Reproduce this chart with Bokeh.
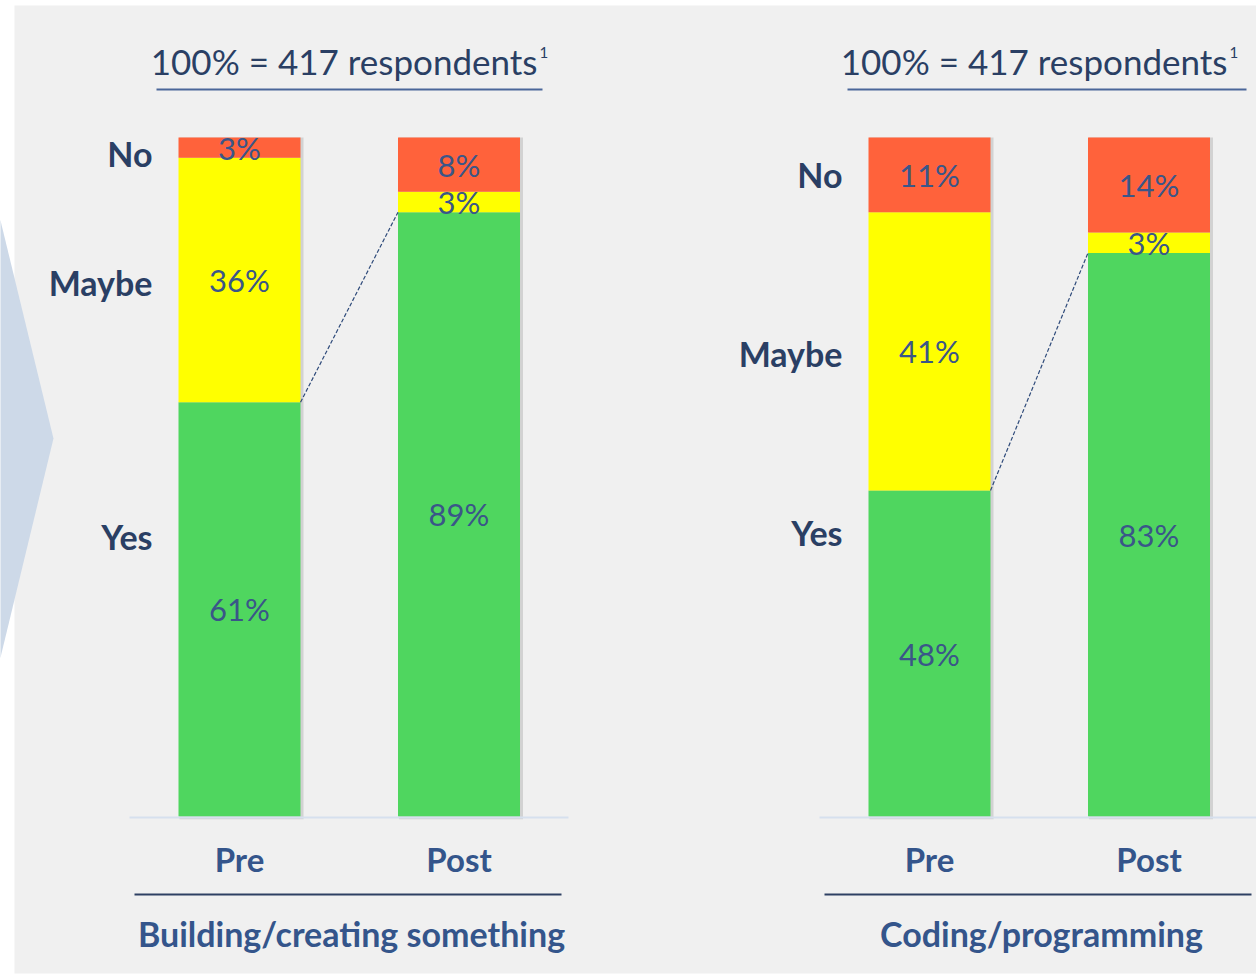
from bokeh.plotting import figure
from bokeh.models import ColumnDataSource, Range1d, Label
from bokeh.core.properties import value
from bokeh.embed import file_html
from bokeh.resources import INLINE

# ---- data ----
panels = ["Building/creating something", "Coding/programming"]
categories = ["Pre", "Post"]
yes = [61, 89, 48, 83]
maybe = [36, 3, 41, 3]
no = [3, 8, 11, 14]
row_labels = ["No", "Maybe", "Yes"]
header = "100% = 417 respondents"
footnote = "1"

# ---- layout constants (reference pixel space) ----
W, H = 1256, 978
PX_PER_PCT = 6.79
BASE = 816  # ref y of 0%


def Y(ry):
    return (BASE - ry) / PX_PER_PCT


bar_x = [239, 458.5, 929, 1148.5]
bar_w = 122
panel_cx = [351, 1041]

GREEN, YELLOW, RED = "#4fd65f", "#ffff00", "#ff623b"
NAVY = "#2a3f64"
BLUE = "#34558b"
PCT_COL = "#3a5688"

p = figure(width=W, height=H, x_range=Range1d(0, W), y_range=Range1d(Y(H), Y(0)),
           output_backend="svg", toolbar_location=None, min_border=0)
p.axis.visible = False
p.grid.visible = False
p.outline_line_color = None
p.background_fill_color = "white"
p.border_fill_color = "white"

# gray panel background
p.quad(left=14, right=1300, bottom=Y(973), top=Y(5), fill_color="#f0f0f0", line_color=None)
# chevron
p.patch(x=[-20, 0, 53, 0, -20], y=[Y(220), Y(220), Y(438), Y(657), Y(657)],
        fill_color="#cdd9e8", line_color=None)

src = ColumnDataSource(dict(
    x=bar_x, yes=yes, maybe=maybe, no=no,
    sx=[x + 2 for x in bar_x],
    tot=[a + b + c for a, b, c in zip(yes, maybe, no)],
    ymid=[a / 2 for a in yes],
    mmid=[a + b / 2 for a, b in zip(yes, maybe)],
    nmid=[a + b + c / 2 for a, b, c in zip(yes, maybe, no)],
    ylab=[f"{v}%" for v in yes],
    mlab=[f"{v}%" for v in maybe],
    nlab=[f"{v}%" for v in no],
))

# shadow
p.vbar(x="sx", width=bar_w + 2, bottom=-0.4, top="tot", source=src,
       fill_color="#9a9a9a", fill_alpha=0.35, line_color=None)
p.vbar_stack(["yes", "maybe", "no"], x="x", width=bar_w, source=src,
             color=[GREEN, YELLOW, RED], line_color=None)

for col, lab in [("ymid", "ylab"), ("mmid", "mlab"), ("nmid", "nlab")]:
    p.text(x="x", y=col, text=lab, source=src, text_align="center", text_baseline="middle",
           text_font=value("Lato"), text_font_size="31px", text_color=PCT_COL)

# dashed connectors from Pre yes top to Post yes top
for i in range(2):
    a, b = 2 * i, 2 * i + 1
    p.line([bar_x[a] + bar_w / 2, bar_x[b] - bar_w / 2], [yes[a], yes[b]],
           line_dash="4 2", line_color="#2e4a7a", line_width=1.2)

# baselines
p.line([129, 568], [Y(817), Y(817)], line_color="#d6e0ee", line_width=2)
p.line([819, 1300], [Y(817), Y(817)], line_color="#d6e0ee", line_width=2)

# header lines and dark lines
p.line([156, 542], [Y(89), Y(89)], line_color="#4a6699", line_width=2)
p.line([847, 1246], [Y(89), Y(89)], line_color="#4a6699", line_width=2)
p.line([134, 561], [Y(894), Y(894)], line_color="#2e4063", line_width=2)
p.line([824, 1251], [Y(894), Y(894)], line_color="#2e4063", line_width=2)

# header texts
for hx in [537, 1227]:
    p.add_layout(Label(x=hx, y=Y(60), text=header, text_align="right", text_baseline="middle",
                       text_font="Lato", text_font_size="35px", text_color=NAVY))
    p.add_layout(Label(x=hx + 2, y=Y(52), text=footnote, text_align="left", text_baseline="middle",
                       text_font="Lato", text_font_size="15px", text_color=NAVY))

# row labels
row_pos = [[153, 282, 536], [174, 353, 532]]
row_x = [152, 842]
for i in range(2):
    for lab, ry in zip(row_labels, row_pos[i]):
        p.add_layout(Label(x=row_x[i], y=Y(ry), text=lab, text_align="right", text_baseline="middle",
                           text_font="Lato", text_font_style="bold", text_font_size="34px",
                           text_color=NAVY))

# category labels
for i, x in enumerate(bar_x):
    p.add_layout(Label(x=x, y=Y(858), text=categories[i % 2], text_align="center",
                       text_baseline="middle", text_font="Lato", text_font_style="bold",
                       text_font_size="33px", text_color=BLUE))

# panel titles
for i in range(2):
    p.add_layout(Label(x=panel_cx[i], y=Y(933), text=panels[i], text_align="center",
                       text_baseline="middle", text_font="Lato", text_font_style="bold",
                       text_font_size="34px", text_color=BLUE))

open("out.html", "w").write(file_html(p, INLINE))
